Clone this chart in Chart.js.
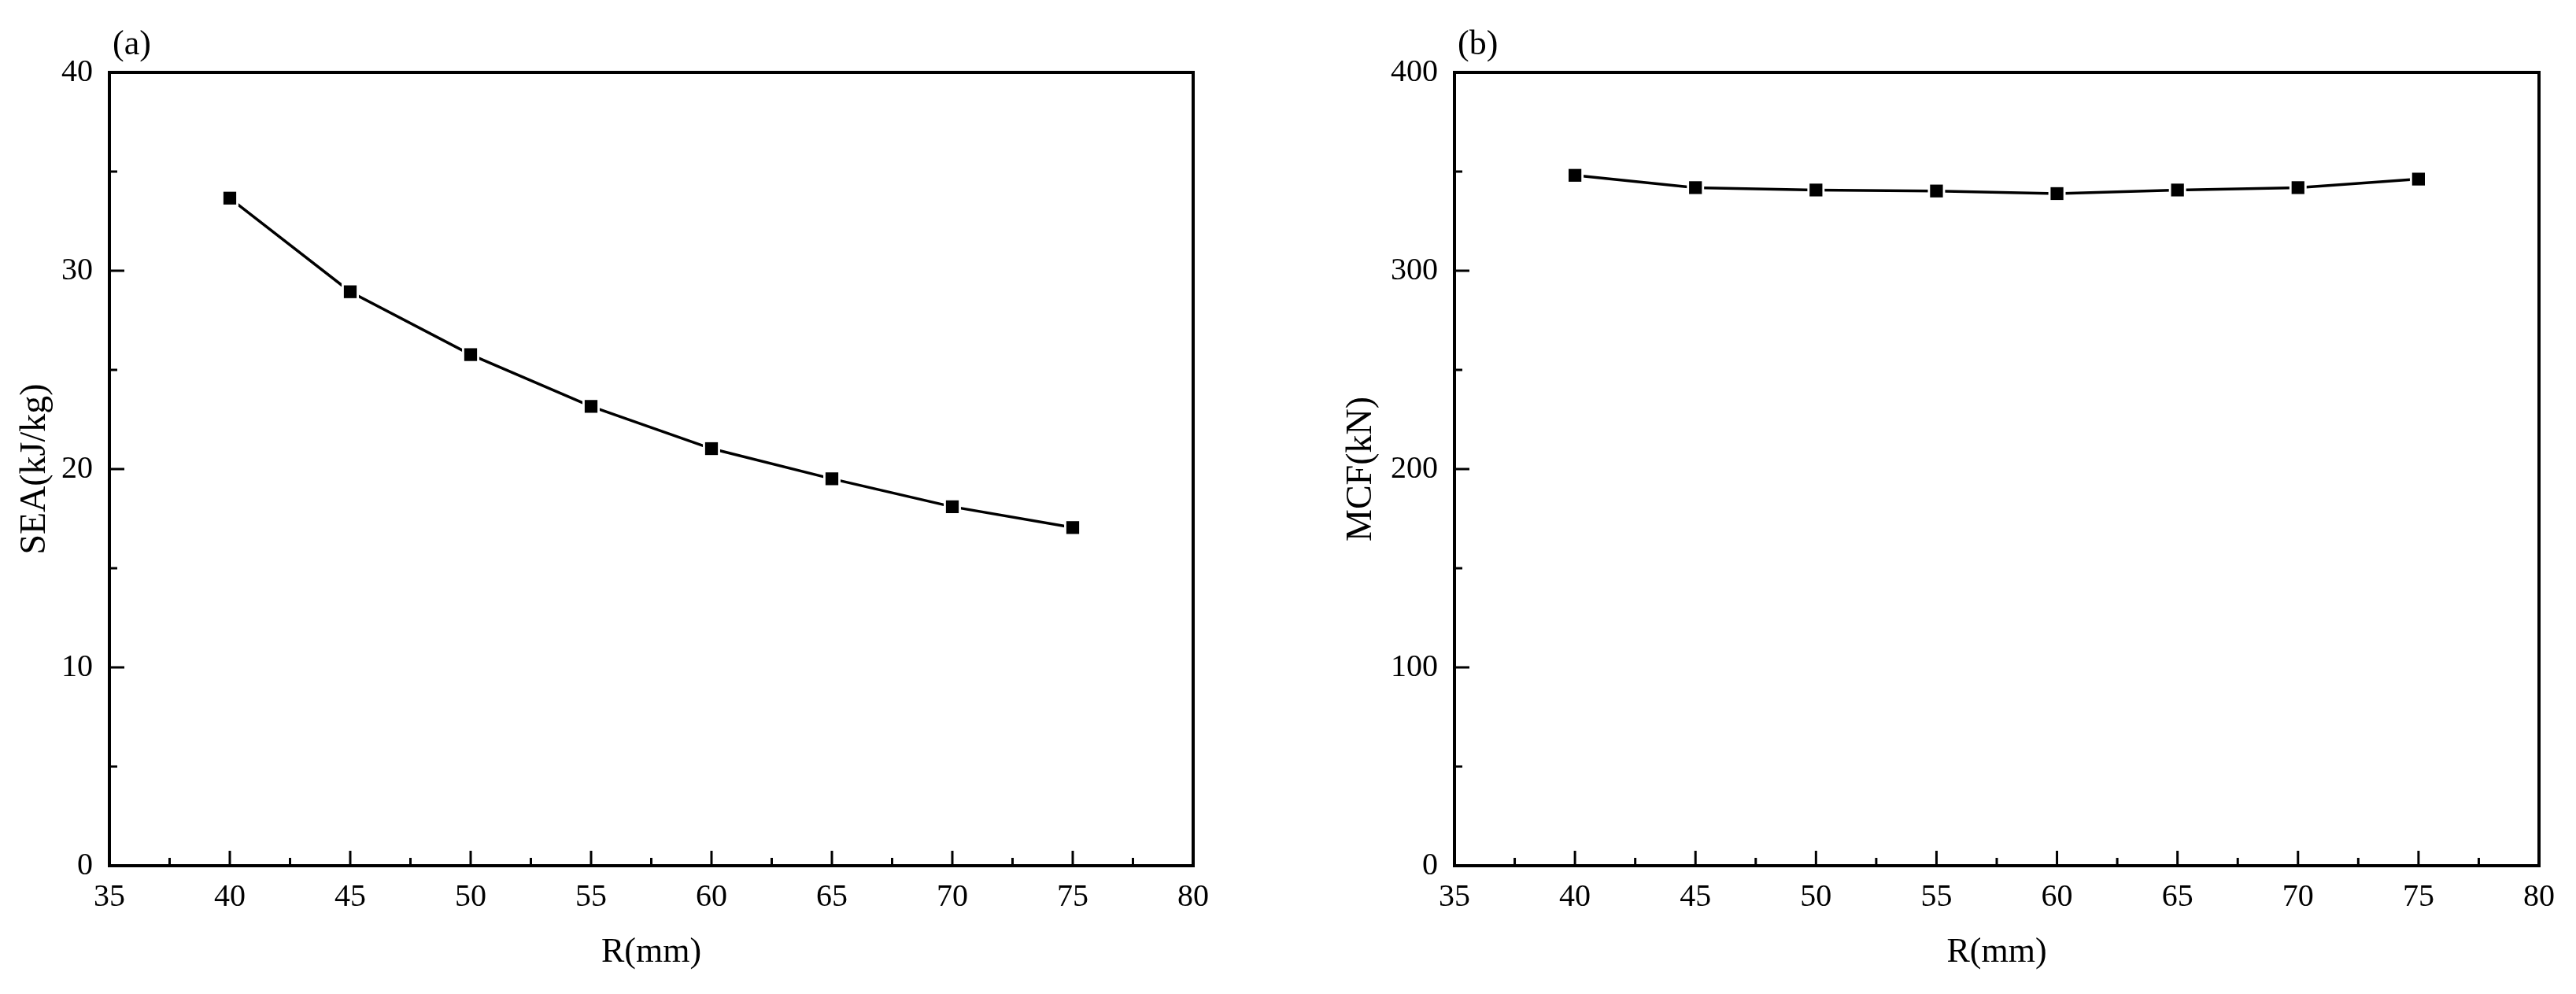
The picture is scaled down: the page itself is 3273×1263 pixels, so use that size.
<!DOCTYPE html>
<html><head><meta charset="utf-8">
<script src="https://cdn.jsdelivr.net/npm/chart.js@4.4.0/dist/chart.umd.min.js"></script>
<style>
html,body{margin:0;padding:0;background:#fff;width:3273px;height:1263px;overflow:hidden}
.panel{position:absolute;top:0;height:1263px}
</style></head><body>
<div class="panel" style="left:0;width:1636px"><canvas id="ca"></canvas></div>
<div class="panel" style="left:1636px;width:1637px"><canvas id="cb"></canvas></div>
<script>
// ---- data ----
const radiusMM = [40, 45, 50, 55, 60, 65, 70, 75];
const seaValues = [33.66, 28.94, 25.77, 23.16, 21.03, 19.51, 18.10, 17.05];
const mcfValues = [348.1, 341.9, 340.7, 340.2, 338.9, 340.7, 341.9, 346.2];
const xTicks = [35, 40, 45, 50, 55, 60, 65, 70, 75, 80];
const seaTicks = [0, 10, 20, 30, 40];
const mcfTicks = [0, 100, 200, 300, 400];
const xTitle = 'R(mm)';
const seaTitle = 'SEA(kJ/kg)';
const mcfTitle = 'MCF(kN)';
const panelLabels = ['(a)', '(b)'];

const FONT = "'Liberation Serif', 'Times New Roman', serif";

const framePlugin = {
  id: 'frame',
  afterDatasetsDraw(chart, args, opts) {
    const {ctx, chartArea: a, scales: {x, y}} = chart;
    ctx.save();
    ctx.strokeStyle = '#000';
    ctx.lineCap = 'butt';
    // ticks (inward)
    ctx.lineWidth = 3;
    const xt = x.ticks.map(t => t.value);
    const yt = y.ticks.map(t => t.value);
    const drawX = (v, len) => { const px = x.getPixelForValue(v); ctx.beginPath(); ctx.moveTo(px, a.bottom); ctx.lineTo(px, a.bottom - len); ctx.stroke(); };
    const drawY = (v, len) => { const py = y.getPixelForValue(v); ctx.beginPath(); ctx.moveTo(a.left, py); ctx.lineTo(a.left + len, py); ctx.stroke(); };
    xt.forEach(v => drawX(v, 19));
    for (let i = 0; i < xt.length - 1; i++) drawX((xt[i] + xt[i + 1]) / 2, 10);
    yt.forEach(v => drawY(v, 19));
    for (let i = 0; i < yt.length - 1; i++) drawY((yt[i] + yt[i + 1]) / 2, 10);
    // box
    ctx.lineWidth = 4;
    ctx.strokeRect(a.left, a.top, a.right - a.left, a.bottom - a.top);
    // panel label
    ctx.fillStyle = '#000';
    ctx.font = '44px ' + FONT;
    ctx.textAlign = 'left';
    ctx.textBaseline = 'alphabetic';
    ctx.fillText(opts.label, a.left + 4, a.top - 23);
    ctx.restore();
  }
};

function makeChart(id, values, yTicks, yTitle, label, yWidth, rightPad, yTitlePad) {
  const pts = radiusMM.map((r, i) => ({x: r, y: values[i]}));
  return new Chart(document.getElementById(id), {
    type: 'line',
    data: {
      datasets: [
        {data: pts, borderColor: '#000', borderWidth: 3.5, pointRadius: 0, tension: 0, order: 3},
        {data: pts, showLine: false, pointStyle: 'rect', pointRadius: 15.5, pointBackgroundColor: '#fff', pointBorderWidth: 0, order: 2},
        {data: pts, showLine: false, pointStyle: 'rect', pointRadius: 11.5, pointBackgroundColor: '#000', pointBorderWidth: 0, order: 1}
      ]
    },
    options: {
      responsive: true,
      maintainAspectRatio: false,
      animation: false,
      events: [],
      layout: {padding: {top: 92, left: 0, right: rightPad, bottom: 0}},
      plugins: {legend: {display: false}, tooltip: {enabled: false}, frame: {label}},
      scales: {
        x: {
          type: 'linear', min: xTicks[0], max: xTicks[xTicks.length - 1],
          afterBuildTicks: s => { s.ticks = xTicks.map(v => ({value: v})); },
          afterFit: s => { s.height = 163; },
          grid: {display: false, drawTicks: false, tickLength: 0},
          border: {display: false},
          ticks: {autoSkip: false, maxRotation: 0, padding: 16, color: '#000', font: {family: FONT, size: 40}},
          title: {display: true, text: xTitle, color: '#000', font: {family: FONT, size: 44}, padding: {top: 0, bottom: 26}}
        },
        y: {
          type: 'linear', min: yTicks[0], max: yTicks[yTicks.length - 1],
          afterBuildTicks: s => { s.ticks = yTicks.map(v => ({value: v})); },
          afterFit: s => { s.width = yWidth; },
          grid: {display: false, drawTicks: false, tickLength: 0},
          border: {display: false},
          ticks: {autoSkip: false, padding: 21, color: '#000', font: {family: FONT, size: 40}},
          title: {display: true, text: yTitle, color: '#000', font: {family: FONT, size: 46}, padding: {top: yTitlePad, bottom: 0}}
        }
      }
    },
    plugins: [framePlugin]
  });
}

makeChart('ca', seaValues, seaTicks, seaTitle, panelLabels[0], 139, 120, 17);
makeChart('cb', mcfValues, mcfTicks, mcfTitle, panelLabels[1], 212, 47, 66);
</script>
</body></html>
